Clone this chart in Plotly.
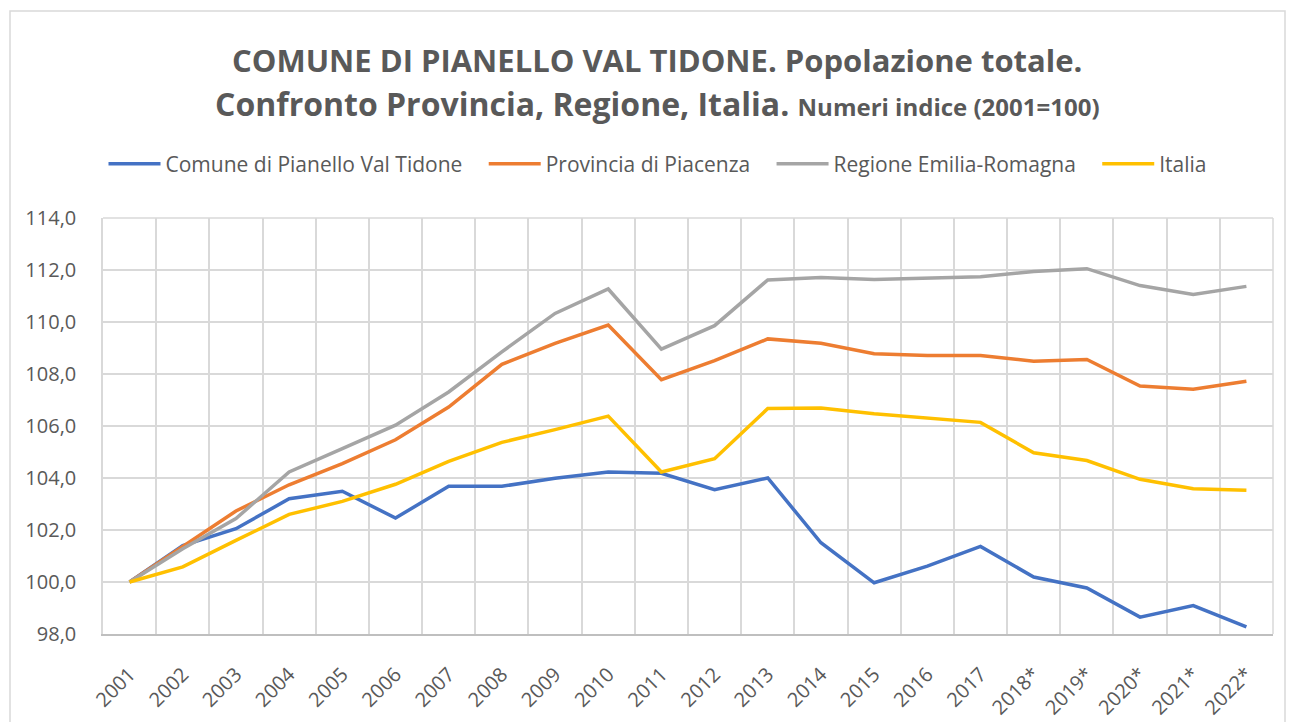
import plotly.graph_objects as go

years = ["2001", "2002", "2003", "2004", "2005", "2006", "2007", "2008", "2009", "2010", "2011",
         "2012", "2013", "2014", "2015", "2016", "2017", "2018*", "2019*", "2020*", "2021*", "2022*"]

comune = [100.0, 101.4, 102.05, 103.2, 103.49, 102.46, 103.68, 103.68, 103.99, 104.23, 104.18,
          103.55, 104.0, 101.51, 99.97, 100.61, 101.37, 100.19, 99.77, 98.65, 99.09, 98.27]
provincia = [100.0, 101.38, 102.73, 103.74, 104.55, 105.47, 106.73, 108.37, 109.18, 109.88, 107.78,
             108.51, 109.35, 109.18, 108.78, 108.71, 108.71, 108.49, 108.56, 107.54, 107.41, 107.72]
regione = [100.0, 101.28, 102.44, 104.23, 105.13, 106.03, 107.31, 108.85, 110.33, 111.27, 108.96,
           109.86, 111.62, 111.71, 111.63, 111.67, 111.74, 111.94, 112.05, 111.4, 111.06, 111.37]
italia = [100.0, 100.58, 101.6, 102.6, 103.1, 103.76, 104.64, 105.37, 105.86, 106.38, 104.23,
          104.74, 106.67, 106.69, 106.47, 106.32, 106.14, 104.97, 104.67, 103.95, 103.59, 103.53]

series_names = ["Comune di Pianello Val Tidone", "Provincia di Piacenza", "Regione Emilia-Romagna", "Italia"]
series_values = [comune, provincia, regione, italia]
series_colors = ["#4472C4", "#ED7D31", "#A5A5A5", "#FFC000"]

TXT = "#595959"
GRID = "#D9D9D9"
FONT = "Open Sans"
PAD = "\u00a0\u00a0\u00a0"

fig = go.Figure()
for i, (name, vals, col) in enumerate(zip(series_names, series_values, series_colors)):
    label = name + (PAD if i < len(series_names) - 1 else "")
    fig.add_trace(go.Scatter(x=years, y=vals, name=label, mode="lines",
                             line=dict(color=col, width=3.5)))

W, H = 1290, 722
ML, MR, MT, MB = 103, 17, 218, 88
pw, ph = W - ML - MR, H - MT - MB

def px(x):
    return (x - ML) / pw

def py(y):
    return (H - MB - y) / ph

fig.update_layout(
    width=W, height=H,
    margin=dict(l=ML, r=MR, t=MT, b=MB, autoexpand=False),
    paper_bgcolor="white", plot_bgcolor="white",
    separators=",.",
    font=dict(family=FONT, color=TXT, size=20),
    showlegend=True,
    legend=dict(orientation="h", x=px(658), xanchor="center", y=py(164), yanchor="middle",
                font=dict(family=FONT, size=21, color=TXT), itemwidth=52,
                bgcolor="rgba(0,0,0,0)"),
    xaxis=dict(type="category", tickson="boundaries", showgrid=True, gridcolor=GRID, gridwidth=1.5,
               tickangle=-45, ticks="", showline=True, linecolor="#BFBFBF", linewidth=1.5,
               tickfont=dict(family=FONT, size=20, color=TXT), ticklabelstandoff=19,
               range=[-0.5, len(years) - 0.5], mirror=False, automargin=False),
    yaxis=dict(range=[98, 114], dtick=2, tickformat=".1f", showgrid=True, gridcolor=GRID, gridwidth=1.5,
               showline=True, linecolor=GRID, linewidth=1.5, zeroline=False, ticks="",
               tickfont=dict(family=FONT, size=20, color=TXT), ticklabelstandoff=21, automargin=False),
    shapes=[
        dict(type="rect", xref="paper", yref="paper", x0=px(10), x1=px(1285), y0=py(740), y1=py(11),
             line=dict(color=GRID, width=1.5), fillcolor="rgba(0,0,0,0)", layer="below"),
        dict(type="line", xref="paper", yref="paper", x0=1, x1=1, y0=0, y1=1,
             line=dict(color=GRID, width=1.5)),
        dict(type="line", xref="paper", yref="paper", x0=0, x1=1, y0=1, y1=1,
             line=dict(color=GRID, width=1.5)),
    ],
    annotations=[
        dict(xref="paper", yref="paper", x=px(657), y=py(60), xanchor="center", yanchor="middle",
             showarrow=False, text="<b>COMUNE DI PIANELLO VAL TIDONE. Popolazione totale.</b>",
             font=dict(family=FONT, size=31, color=TXT)),
        dict(xref="paper", yref="paper", x=px(657), y=py(103), xanchor="center", yanchor="middle",
             showarrow=False,
             text="<b>Confronto Provincia, Regione, Italia. <span style='font-size:24px'>Numeri indice (2001=100)</span></b>",
             font=dict(family=FONT, size=32, color=TXT)),
    ],
)

fig.write_html("out.html", config={"displayModeBar": False},
               post_script="document.body.style.margin='0';document.body.style.overflow='hidden';")
